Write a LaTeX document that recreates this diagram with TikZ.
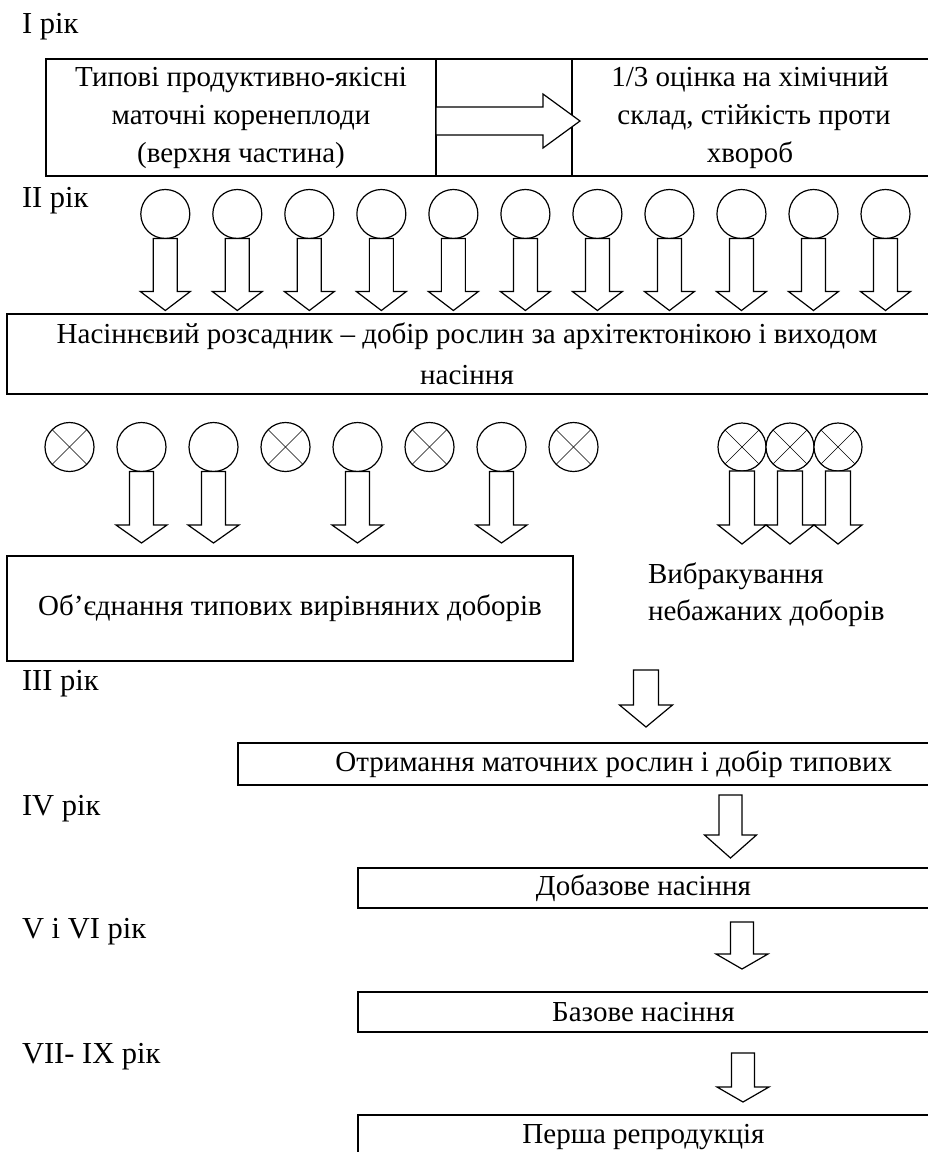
\documentclass[tikz,border=0pt]{standalone}
\usepackage{fontspec}
\setmainfont{Liberation Serif}
\usetikzlibrary{calc}
\newcommand{\DArr}[5]{% #1 top point, #2 body length, #3 head length, #4 body half width, #5 head half width
  \draw[blk] ($#1+(-#4,0)$) -- ++(0,#2) -- ++({#4-#5},0) -- ++(#5,#3) -- ++(#5,-#3) -- ++({#4-#5},0) -- ++(0,-#2) -- cycle;}
\begin{document}
\begin{tikzpicture}[x=1pt,y=-1pt,
  txt/.style={font=\fontsize{29}{38}\selectfont, inner sep=0pt, outer sep=0pt},
  yr/.style={font=\fontsize{30.5}{38}\selectfont, inner sep=0pt, outer sep=0pt, anchor=base west},
  box/.style={draw, line width=2pt, rectangle, inner sep=0pt, outer sep=0pt, align=center, font=\fontsize{29}{38}\selectfont},
  blk/.style={draw, line width=1.2pt, fill=white, line join=miter},
  bud/.style={draw, circle, line width=1.2pt, minimum size=49pt, inner sep=0pt, outer sep=0pt, fill=white},
  xbud/.style={bud, append after command={[line width=1.2pt] (\tikzlastnode.north east) edge (\tikzlastnode.south west) (\tikzlastnode.north west) edge (\tikzlastnode.south east)}}
]
\useasboundingbox (0,0) rectangle (927,1152);

% year labels
\node[yr] (y1) at (22,33) {I рік};
\node[yr] (y2) at (22,207) {II рік};
\node[yr] (y3) at (22,690) {III рік};
\node[yr] (y4) at (22,815) {IV рік};
\node[yr] (y5) at (22,938) {V і VI рік};
\node[yr] (y6) at (22,1063) {VII- IX рік};

% first box
\node[box, anchor=north west, minimum width=390pt, minimum height=117pt] (b1l) at (46,59)
  {Типові продуктивно-якісні\\маточні коренеплоди\\(верхня частина)};
\node[box, anchor=north west, minimum width=136pt, minimum height=117pt] (b1m) at (436,59) {};
\node[box, anchor=north west, minimum width=364pt, minimum height=117pt] (b1r) at (572,59)
  {1/3 оцінка на хімічний\hspace*{8pt}\\склад, стійкість проти\hspace*{8pt}\\хвороб\hspace*{8pt}};
\draw[blk] ($(b1l.east)+(0,-14+3.5)$) -- ++(107,0) -- ++(0,-13) -- ++(37,27) -- ++(-37,27) -- ++(0,-13) -- ++(-107,0) -- cycle;

% row 1 of plants
\foreach \k in {0,...,10} {
  \node[bud] (c\k) at ({165.3+72.02*\k},214) {};
  \DArr{(c\k.south)}{53}{19}{12}{25}
}

% second box
\node[box, anchor=north west, minimum width=928pt, minimum height=80pt, font=\fontsize{29}{41}\selectfont] (b2) at (7,314)
  {Насіннєвий розсадник – добір рослин за архітектонікою і виходом\hspace*{8pt}\\насіння\hspace*{8pt}};

% row 2 of plants
\node[xbud] (d0) at (69.5,447) {};
\node[bud]  (d1) at (141.5,447) {};
\node[bud]  (d2) at (213.5,447) {};
\node[xbud] (d3) at (285.5,447) {};
\node[bud]  (d4) at (357.5,447) {};
\node[xbud] (d5) at (429.5,447) {};
\node[bud]  (d6) at (501.5,447) {};
\node[xbud] (d7) at (573.5,447) {};
\foreach \k in {1,2,4,6} { \DArr{(d\k.south)}{53.5}{18}{12}{25.5} }

% rejected group
\node[xbud, minimum size=48pt] (e0) at (742,447) {};
\node[xbud, minimum size=48pt] (e1) at (790,447) {};
\node[xbud, minimum size=48pt] (e2) at (838,447) {};
\foreach \k in {0,1,2} { \DArr{(e\k.south)}{54}{19}{12.5}{24} }
\node[txt, anchor=base west] (v1) at (648,583) {Вибракування};
\node[txt, anchor=base west] (v2) at (648,620) {небажаних доборів};

% third box
\node[box, anchor=north west, minimum width=566pt, minimum height=105pt] (b3) at (7,556)
  {Об’єднання типових вирівняних доборів};

% chain
\coordinate (a3) at (646,670);
\DArr{(a3)}{35}{22}{12.5}{26.5}
\node[box, anchor=north west, minimum width=752pt, minimum height=42pt] (b4) at (237.7,743)
  {Отримання маточних рослин і добір типових};
\DArr{($(b4.south)+(116.8,10)$)}{40}{23}{11.5}{26}
\node[box, anchor=north west, minimum width=577pt, minimum height=40pt] (b5) at (358,868)
  {Добазове насіння\hspace*{6pt}};
\DArr{($(b5.south)+(95.5,14)$)}{32}{15}{11.5}{26}
\node[box, anchor=north west, minimum width=577pt, minimum height=39.5pt] (b6) at (358,992)
  {Базове насіння\hspace*{6pt}};
\DArr{($(b6.south)+(96.5,21.5)$)}{34}{15}{11.5}{26}
\node[box, anchor=north west, minimum width=577pt, minimum height=45pt] (b7) at (358,1115)
  {Перша репродукція\hspace*{6pt}};
\end{tikzpicture}
\end{document}
